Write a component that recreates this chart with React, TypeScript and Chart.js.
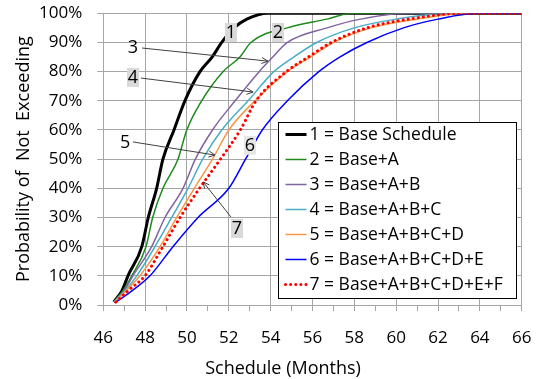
import React, { useEffect, useRef } from "react";
import { Chart, registerables } from "chart.js";

Chart.register(...registerables);

// Cumulative probability levels (%) shared by every scenario curve
const probabilities = [1, 5, 10, 20, 30, 40, 50, 60, 70, 80, 85, 90, 95, 98, 100, 100];

// Schedule duration (months) reached at each probability level
const baseSchedule = [46.5, 46.9, 47.18, 47.84, 48.15, 48.55, 48.85, 49.38, 49.9, 50.62, 51.2, 51.66, 52.25, 52.86, 53.87, 66];
const baseA = [46.5, 46.95, 47.36, 48.04, 48.36, 48.85, 49.57, 49.99, 50.7, 51.72, 52.53, 53.05, 54.8, 56.68, 57.87, 66];
const baseAB = [46.5, 47.0, 47.42, 48.31, 48.95, 49.81, 50.4, 51.22, 52.3, 53.45, 54.1, 54.8, 56.7, 58.3, 60.5, 66];
const baseABC = [46.5, 47.05, 47.6, 48.47, 49.27, 50.05, 50.75, 51.66, 52.92, 54.15, 55.1, 56.2, 58.0, 60.0, 62.6, 66];
const baseABCD = [46.55, 47.1, 47.75, 48.71, 49.51, 50.35, 51.22, 52.0, 53.25, 54.8, 55.9, 57.0, 58.8, 61.0, 63.4, 66];
const baseABCDE = [46.6, 47.4, 48.23, 49.33, 50.53, 52.0, 52.8, 53.6, 54.8, 56.3, 57.3, 58.6, 60.35, 62.0, 63.9, 66];
const baseABCDEF = [46.6, 47.2, 47.99, 48.85, 49.67, 50.6, 51.6, 52.55, 53.3, 54.75, 55.8, 56.9, 58.6, 60.6, 63.2, 66];

const seriesLabels = [
  "1 = Base Schedule",
  "2 = Base+A",
  "3 = Base+A+B",
  "4 = Base+A+B+C",
  "5 = Base+A+B+C+D",
  "6 = Base+A+B+C+D+E",
  "7 = Base+A+B+C+D+E+F",
];
const seriesValues = [baseSchedule, baseA, baseAB, baseABC, baseABCD, baseABCDE, baseABCDEF];
const seriesColors = ["#000000", "#1e8a1e", "#8064a2", "#4bacc6", "#f79646", "#0000ff", "#ff0000"];
const seriesWidths = [3, 1.5, 1.5, 1.5, 1.5, 1.5, 3];

// Axis ranges and tick values
const xMin = 46;
const xMax = 66;
const yTicks = [0, 10, 20, 30, 40, 50, 60, 70, 80, 90, 100];

// Curve call-outs: label, label position and optional arrow (data units)
type Callout = { text: string; x: number; y: number; shaded: string | null; arrow?: [number, number, number, number] };
const callouts: Callout[] = [
  { text: "1", x: 52.1, y: 93.6, shaded: "#d9d9d9" },
  { text: "2", x: 54.35, y: 93.6, shaded: "#d9d9d9" },
  { text: "3", x: 47.42, y: 88.4, shaded: null, arrow: [47.85, 88.1, 53.87, 83.6] },
  { text: "4", x: 47.42, y: 78.2, shaded: "#d9d9d9", arrow: [47.8, 77.8, 53.16, 73.0] },
  { text: "5", x: 47.04, y: 55.9, shaded: null, arrow: [47.42, 55.9, 51.34, 51.4] },
  { text: "6", x: 53.01, y: 54.9, shaded: "#e6e6e6" },
  { text: "7", x: 52.39, y: 26.4, shaded: "#d9d9d9", arrow: [52.1, 30.2, 50.77, 42.2] },
];

const FONT = "'Open Sans', sans-serif";
const GRID = "#a6a6a6";

const overlayPlugin = {
  id: "scheduleOverlay",
  afterDraw(chart: any) {
    const ctx: CanvasRenderingContext2D = chart.ctx;
    const xs = chart.scales.x;
    const ys = chart.scales.y;
    const area = chart.chartArea;

    ctx.save();

    // call-out arrows
    ctx.strokeStyle = "#404040";
    ctx.lineWidth = 1;
    callouts.forEach((c) => {
      if (!c.arrow) return;
      const x1 = xs.getPixelForValue(c.arrow[0]);
      const y1 = ys.getPixelForValue(c.arrow[1]);
      const x2 = xs.getPixelForValue(c.arrow[2]);
      const y2 = ys.getPixelForValue(c.arrow[3]);
      ctx.beginPath();
      ctx.moveTo(x1, y1);
      ctx.lineTo(x2, y2);
      const ang = Math.atan2(y2 - y1, x2 - x1);
      const h = 7;
      ctx.moveTo(x2 - h * Math.cos(ang - 0.45), y2 - h * Math.sin(ang - 0.45));
      ctx.lineTo(x2, y2);
      ctx.lineTo(x2 - h * Math.cos(ang + 0.45), y2 - h * Math.sin(ang + 0.45));
      ctx.stroke();
    });

    // call-out numbers
    ctx.font = `18px ${FONT}`;
    ctx.textAlign = "center";
    ctx.textBaseline = "middle";
    callouts.forEach((c) => {
      const px = xs.getPixelForValue(c.x);
      const py = ys.getPixelForValue(c.y);
      if (c.shaded) {
        ctx.fillStyle = c.shaded;
        ctx.fillRect(px - 6, py - 9, 12, 19);
      }
      ctx.fillStyle = "#000";
      ctx.fillText(c.text, px, py + 1);
    });

    // legend box inside the plot
    const lx = 278.5;
    const ly = 122.5;
    const lw = 238;
    const lh = 176;
    ctx.fillStyle = "#ffffff";
    ctx.fillRect(lx, ly, lw, lh);
    ctx.strokeStyle = "#000";
    ctx.lineWidth = 1;
    ctx.strokeRect(lx, ly, lw, lh);
    ctx.font = `17.5px ${FONT}`;
    ctx.textAlign = "left";
    ctx.textBaseline = "middle";
    chart.data.datasets.forEach((ds: any, i: number) => {
      const rowY = ly + 12 + i * 25;
      ctx.strokeStyle = ds.borderColor;
      ctx.lineWidth = ds.borderWidth;
      ctx.lineCap = ds.borderDash && ds.borderDash.length ? "round" : "butt";
      ctx.setLineDash(ds.borderDash || []);
      ctx.beginPath();
      ctx.moveTo(lx + 7, rowY);
      ctx.lineTo(lx + 28, rowY);
      ctx.stroke();
      ctx.setLineDash([]);
      ctx.fillStyle = "#000";
      ctx.fillText(ds.label, lx + 31, rowY + 1);
    });

    // axis titles
    ctx.fillStyle = "#000";
    ctx.font = `18px ${FONT}`;
    ctx.textAlign = "center";
    ctx.textBaseline = "middle";
    ctx.fillText("Schedule (Months)", 283, 369);
    ctx.translate(24, (area.top + area.bottom) / 2);
    ctx.rotate(-Math.PI / 2);
    ctx.fillText("Probability of  Not  Exceeding", 0, 0);

    ctx.restore();
  },
};

export default function App() {
  const canvasRef = useRef<HTMLCanvasElement | null>(null);

  useEffect(() => {
    if (!canvasRef.current) return;
    const datasets = seriesLabels.map((label, i) => ({
      label,
      data: seriesValues[i].map((x, k) => ({ x, y: probabilities[k] })),
      borderColor: seriesColors[i],
      backgroundColor: seriesColors[i],
      borderWidth: seriesWidths[i],
      borderDash: i === 6 ? [0.1, 5] : [],
      borderCapStyle: i === 6 ? "round" : "butt",
      pointRadius: 0,
      fill: false,
      cubicInterpolationMode: "monotone",
      order: 7 - i,
    }));

    const chart = new Chart(canvasRef.current, {
      type: "line",
      data: { datasets } as any,
      plugins: [overlayPlugin],
      options: {
        responsive: false,
        animation: false,
        layout: { padding: { left: 0, right: 14.3, top: 13.3, bottom: 0 } },
        plugins: { legend: { display: false }, tooltip: { enabled: false } },
        scales: {
          x: {
            type: "linear",
            min: xMin,
            max: xMax,
            afterFit: (s: any) => {
              s.height = 74;
              s.paddingLeft = 0;
              s.paddingRight = 0;
            },
            ticks: {
              stepSize: 1,
              autoSkip: false,
              maxRotation: 0,
              padding: 17,
              color: "#000",
              font: { family: FONT, size: 17 },
              callback: (v: any) => (Number(v) % 2 === 0 ? String(v) : ""),
            },
            grid: {
              color: (c: any) => (c.tick && c.tick.value % 2 === 0 ? GRID : "rgba(0,0,0,0)"),
              tickColor: GRID,
              tickLength: 6,
            },
            border: { color: GRID },
          },
          y: {
            type: "linear",
            min: 0,
            max: 100,
            afterFit: (s: any) => {
              s.width = 103.3;
              s.paddingTop = 0;
              s.paddingBottom = 0;
            },
            afterBuildTicks: (s: any) => {
              s.ticks = yTicks.map((v) => ({ value: v }));
            },
            ticks: {
              padding: 15,
              color: "#000",
              font: { family: FONT, size: 17 },
              callback: (v: any) => `${v}%`,
            },
            grid: { color: GRID, tickColor: GRID, tickLength: 6 },
            border: { color: GRID },
          },
        },
      } as any,
    });
    return () => chart.destroy();
  }, []);

  return (
    <div style={{ position: "absolute", left: 0, top: 0, width: 536, height: 379, background: "#fff" }}>
      <canvas ref={canvasRef} width={536} height={379} style={{ width: 536, height: 379 }} />
    </div>
  );
}
